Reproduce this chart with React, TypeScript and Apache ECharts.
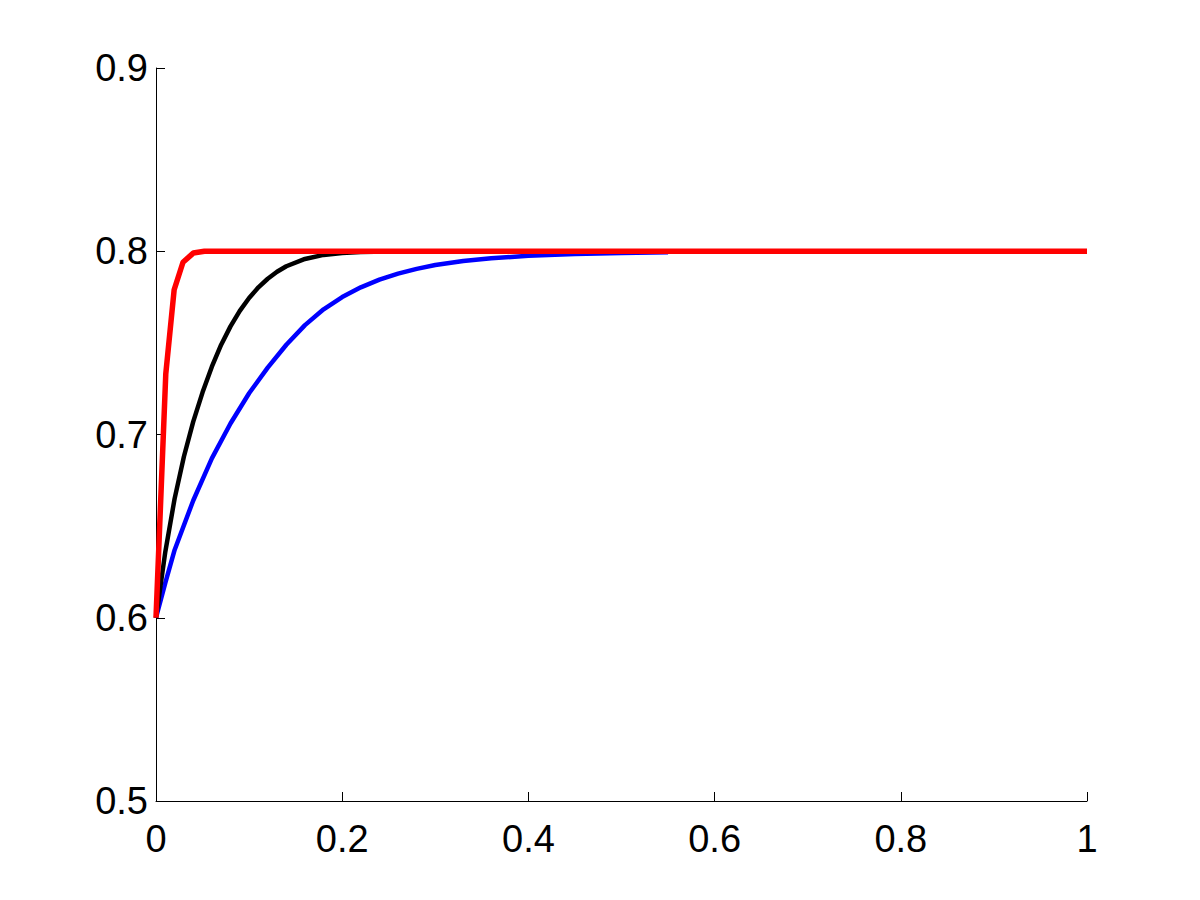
import React, { useEffect, useRef } from "react";
import * as echarts from "echarts";

const xTicks = [0, 0.2, 0.4, 0.6, 0.8, 1];
const yTicks = [0.5, 0.6, 0.7, 0.8, 0.9];

const blueX = [0, 0.01, 0.02, 0.04, 0.06, 0.08, 0.1, 0.12, 0.14, 0.16, 0.18, 0.2, 0.22, 0.24, 0.26, 0.28, 0.3, 0.33, 0.36, 0.4, 0.45, 0.5, 0.55];
const blueY = [0.6, 0.619, 0.637, 0.664, 0.687, 0.706, 0.7225, 0.7365, 0.749, 0.7597, 0.7683, 0.775, 0.7803, 0.7845, 0.7878, 0.7904, 0.7925, 0.7947, 0.7962, 0.7975, 0.7985, 0.7991, 0.7995];

const blackX = [0, 0.01, 0.02, 0.03, 0.04, 0.05, 0.06, 0.07, 0.08, 0.09, 0.1, 0.11, 0.12, 0.13, 0.14, 0.16, 0.18, 0.2, 0.22, 0.25, 0.28];
const blackY = [0.6, 0.636, 0.665, 0.688, 0.707, 0.723, 0.737, 0.749, 0.759, 0.7675, 0.7745, 0.7803, 0.785, 0.7888, 0.7918, 0.7958, 0.798, 0.7991, 0.7996, 0.7999, 0.8];

const redX = [0, 0.0105, 0.0195, 0.029, 0.04, 0.052, 1];
const redY = [0.6, 0.733, 0.779, 0.794, 0.799, 0.8, 0.8];

const zip = (xs: number[], ys: number[]) => xs.map((x, i) => [x, ys[i]]);

export default function App() {
  const ref = useRef<HTMLDivElement>(null);
  useEffect(() => {
    if (!ref.current) return;
    const chart = echarts.init(ref.current, null, { renderer: "svg" });
    const font = "'Liberation Sans', Arial, Helvetica, sans-serif";
    chart.setOption({
      animation: false,
      backgroundColor: "#ffffff",
      grid: { left: 156, right: 113, top: 68, bottom: 99, containLabel: false },
      xAxis: {
        type: "value",
        min: 0,
        max: 1,
        interval: 0.2,
        axisLine: { show: true, onZero: false, lineStyle: { color: "#000", width: 1 } },
        axisTick: { show: true, inside: true, length: 9, lineStyle: { color: "#000", width: 1 } },
        splitLine: { show: false },
        axisLabel: {
          color: "#000",
          fontSize: 38,
          fontFamily: font,
          margin: 19,
          formatter: (v: number) => {
            const t = xTicks.find((k) => Math.abs(k - v) < 1e-9);
            return t === undefined ? "" : String(t);
          },
        },
      },
      yAxis: {
        type: "value",
        min: 0.5,
        max: 0.9,
        interval: 0.1,
        axisLine: { show: true, onZero: false, lineStyle: { color: "#000", width: 1 } },
        axisTick: { show: true, inside: true, length: 9, lineStyle: { color: "#000", width: 1 } },
        splitLine: { show: false },
        axisLabel: {
          color: "#000",
          fontSize: 38,
          fontFamily: font,
          margin: 8,
          formatter: (v: number) => {
            const t = yTicks.find((k) => Math.abs(k - v) < 1e-9);
            return t === undefined ? "" : t.toFixed(1);
          },
        },
      },
      series: [
        {
          type: "line",
          data: zip(blueX, blueY),
          showSymbol: false,
          smooth: false,
          lineStyle: { color: "#0000ff", width: 4.5 },
          itemStyle: { color: "#0000ff" },
        },
        {
          type: "line",
          data: zip(blackX, blackY),
          showSymbol: false,
          smooth: false,
          lineStyle: { color: "#000000", width: 4.5 },
          itemStyle: { color: "#000000" },
        },
        {
          type: "line",
          data: zip(redX, redY),
          showSymbol: false,
          smooth: false,
          lineStyle: { color: "#ff0000", width: 5.5 },
          itemStyle: { color: "#ff0000" },
        },
      ],
    });
    return () => chart.dispose();
  }, []);
  return (
    <div
      ref={ref}
      style={{ position: "absolute", left: 0, top: 0, width: 1200, height: 900 }}
    />
  );
}
